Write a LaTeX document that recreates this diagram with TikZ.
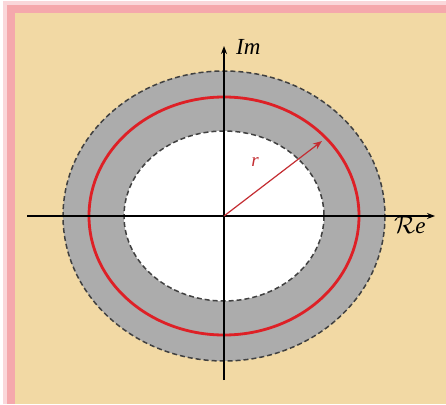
\documentclass[tikz,border=0pt]{standalone}
\usepackage{fontspec}
\setmainfont{Liberation Serif}
\usetikzlibrary{arrows.meta}
\definecolor{beige}{RGB}{242,217,164}
\definecolor{framepink}{RGB}{245,168,172}
\definecolor{glowpink}{RGB}{250,215,218}
\definecolor{ringgray}{RGB}{172,172,172}
\definecolor{circred}{RGB}{222,32,38}
\definecolor{radred}{RGB}{196,45,50}

\begin{document}
\begin{tikzpicture}[x=1pt, y=-1pt,
  axis/.style={line width=1.3pt, -{Stealth[length=8pt,width=6pt]}},
  bound/.style={dashed, dash pattern=on 5pt off 3pt, line width=1.5pt, black!75},
  lbl/.style={font=\fontsize{23}{23}\selectfont\itshape, inner sep=0pt}]
  \useasboundingbox (0,0) rectangle (446,404);

  % Frame
  \fill[glowpink] (3,1) rectangle (446,404);
  \fill[framepink] (7,5) rectangle (446,404);
  \fill[beige] (15,13) rectangle (446,404);

  % Ring
  \coordinate (o) at (224,216);
  \fill[ringgray] (o) ellipse [x radius=161, y radius=145];
  \fill[white] (o) ellipse [x radius=100, y radius=85];
  \draw[bound] (o) ellipse [x radius=161, y radius=145];
  \draw[bound] (o) ellipse [x radius=100, y radius=85];
  \draw[circred, line width=2.8pt] (o) ellipse [x radius=135, y radius=119];

  % Axes
  \coordinate (xl) at (27,216);
  \coordinate (xr) at (435,216);
  \coordinate (yb) at (224,380);
  \coordinate (yt) at (224,46);
  \draw[axis] (xl) -- (xr);
  \draw[axis] (yb) -- (yt);
  \node[lbl, anchor=base west] (im) at (236,55) {Im};
  \node[lbl, anchor=base west] (re) at (394,233) {$\mathcal{R}$e};

  % Radius
  \coordinate (p) at (322,141);
  \draw[radred, line width=1.2pt, -{Stealth[length=9pt,width=7pt]}] (o) -- (p);
  \node[lbl, text=radred, font=\fontsize{19}{19}\selectfont\itshape, anchor=base] (r) at (255,166) {r};
\end{tikzpicture}
\end{document}
